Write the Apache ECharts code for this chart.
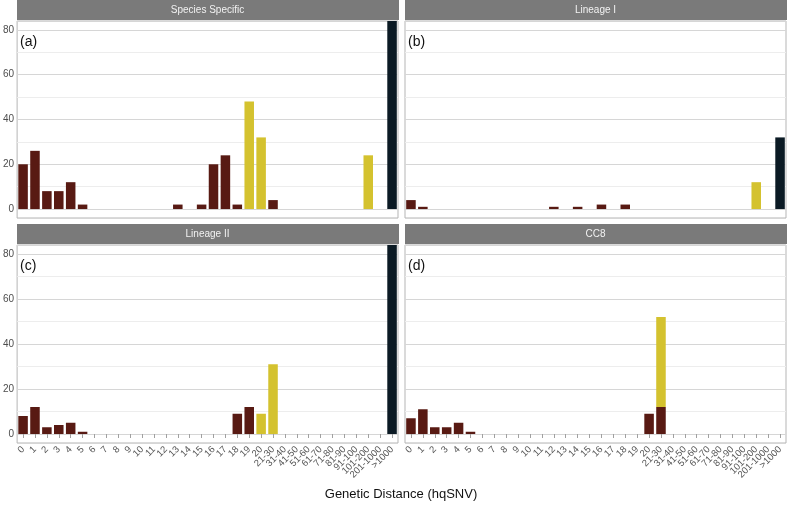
<!DOCTYPE html>
<html>
<head>
<meta charset="utf-8">
<script src="https://cdn.jsdelivr.net/npm/echarts@6/dist/echarts.min.js"></script>
<style>
  html, body { margin: 0; padding: 0; background: #fff; }
  #chart { width: 787px; height: 505px; }
</style>
</head>
<body>
<div id="chart"></div>
<script>
// distance bins (x axis)
var categories = ["0","1","2","3","4","5","6","7","8","9","10","11","12","13","14","15","16","17","18","19","20",
  "21-30","31-40","41-50","51-60","61-70","71-80","81-90","91-100","101-200","201-1000",">1000"];

var panelTitles = ["Species Specific", "Lineage I", "Lineage II", "CC8"];
var panelTags = ["(a)", "(b)", "(c)", "(d)"];

// counts per bin, one array per colour group and panel
// (the >1000 bars in (a) and (c) run off the top of the panel)
var speciesLow  = [20,26,8,8,12,2,0,0,0,0,0,0,0,2,0,2,20,24,2,0,0,4,0,0,0,0,0,0,0,0,0,0];
var speciesMid  = [0,0,0,0,0,0,0,0,0,0,0,0,0,0,0,0,0,0,0,48,32,0,0,0,0,0,0,0,0,24,0,0];
var speciesHigh = [0,0,0,0,0,0,0,0,0,0,0,0,0,0,0,0,0,0,0,0,0,0,0,0,0,0,0,0,0,0,0,130];

var lin1Low  = [4,1,0,0,0,0,0,0,0,0,0,0,1,0,1,0,2,0,2,0,0,0,0,0,0,0,0,0,0,0,0,0];
var lin1Mid  = [0,0,0,0,0,0,0,0,0,0,0,0,0,0,0,0,0,0,0,0,0,0,0,0,0,0,0,0,0,12,0,0];
var lin1High = [0,0,0,0,0,0,0,0,0,0,0,0,0,0,0,0,0,0,0,0,0,0,0,0,0,0,0,0,0,0,0,32];

var lin2Low  = [8,12,3,4,5,1,0,0,0,0,0,0,0,0,0,0,0,0,9,12,0,0,0,0,0,0,0,0,0,0,0,0];
var lin2Mid  = [0,0,0,0,0,0,0,0,0,0,0,0,0,0,0,0,0,0,0,0,9,31,0,0,0,0,0,0,0,0,0,0];
var lin2High = [0,0,0,0,0,0,0,0,0,0,0,0,0,0,0,0,0,0,0,0,0,0,0,0,0,0,0,0,0,0,0,130];

var cc8Low  = [7,11,3,3,5,1,0,0,0,0,0,0,0,0,0,0,0,0,0,0,9,12,0,0,0,0,0,0,0,0,0,0];
var cc8Mid  = [0,0,0,0,0,0,0,0,0,0,0,0,0,0,0,0,0,0,0,0,0,40,0,0,0,0,0,0,0,0,0,0];
var cc8High = [0,0,0,0,0,0,0,0,0,0,0,0,0,0,0,0,0,0,0,0,0,0,0,0,0,0,0,0,0,0,0,0];

var panelData = [
  [speciesLow, speciesMid, speciesHigh],
  [lin1Low, lin1Mid, lin1High],
  [lin2Low, lin2Mid, lin2High],
  [cc8Low, cc8Mid, cc8High]
];

var colors = ["#581a13", "#d4c22f", "#0b1a24"];
var font = "Liberation Sans";

// panel boxes: [left, top, width, height]
var boxes = [
  [17, 21, 381, 197],
  [405, 21, 381, 197],
  [17, 245, 381, 198],
  [405, 245, 381, 198]
];

var grids = [], xAxes = [], yAxes = [], series = [], graphics = [];

boxes.forEach(function (b, i) {
  var bottomRow = i >= 2;
  var leftCol = i % 2 === 0;
  grids.push({
    left: b[0], top: b[1], width: b[2], height: b[3],
    show: true, borderColor: "#b5b5b5", borderWidth: 1, backgroundColor: "#fff"
  });
  xAxes.push({
    type: "category", gridIndex: i, data: categories,
    axisLine: { show: false },
    axisTick: { show: bottomRow, alignWithLabel: true, length: 4, lineStyle: { color: "#a0a0a0" } },
    axisLabel: {
      show: bottomRow, rotate: 45, interval: 0, fontSize: 9.5, color: "#555",
      fontFamily: font, margin: 5
    },
    splitLine: { show: false }
  });
  yAxes.push({
    type: "value", gridIndex: i, min: -4, max: 84, splitNumber: 4,
    axisLine: { show: false }, axisTick: { show: false },
    axisLabel: {
      show: leftCol, fontSize: 10, color: "#4d4d4d", fontFamily: font, margin: 3,
      formatter: function (v) { return v % 20 === 0 && v >= 0 && v <= 80 ? String(v) : ""; }
    },
    splitLine: { show: true, lineStyle: { color: "#d6d6d6", width: 1 } },
    minorTick: { show: false, splitNumber: 2 },
    minorSplitLine: { show: true, lineStyle: { color: "#ededed", width: 1 } }
  });
  panelData[i].forEach(function (vals, k) {
    series.push({
      type: "bar", xAxisIndex: i, yAxisIndex: i, stack: "p" + i,
      data: vals, barWidth: "80%", clip: true,
      itemStyle: { color: colors[k] }, silent: true
    });
  });
  // facet strip
  graphics.push({
    type: "rect", left: b[0], top: b[1] - 21, silent: true,
    shape: { width: b[2] + 1, height: 20 },
    style: { fill: "#7a7a7a" }
  });
  graphics.push({
    type: "text", silent: true,
    style: {
      text: panelTitles[i], x: b[0] + b[2] / 2, y: b[1] - 11,
      align: "center", verticalAlign: "middle",
      fill: "#f2f2f2", fontSize: 10, fontFamily: font
    }
  });
  graphics.push({
    type: "text", silent: true, z: 100,
    style: {
      text: panelTags[i], x: b[0] + 3, y: b[1] + 21,
      align: "left", verticalAlign: "middle",
      fill: "#111", fontSize: 14, fontFamily: font
    }
  });
});

graphics.push({
  type: "text", silent: true,
  style: {
    text: "Genetic Distance (hqSNV)", x: 401, y: 494,
    align: "center", verticalAlign: "middle",
    fill: "#111", fontSize: 13, fontFamily: font
  }
});

var chart = echarts.init(document.getElementById("chart"), null, { renderer: "canvas" });
chart.setOption({
  animation: false,
  backgroundColor: "#fff",
  grid: grids,
  xAxis: xAxes,
  yAxis: yAxes,
  series: series,
  graphic: graphics
});
</script>
</body>
</html>
